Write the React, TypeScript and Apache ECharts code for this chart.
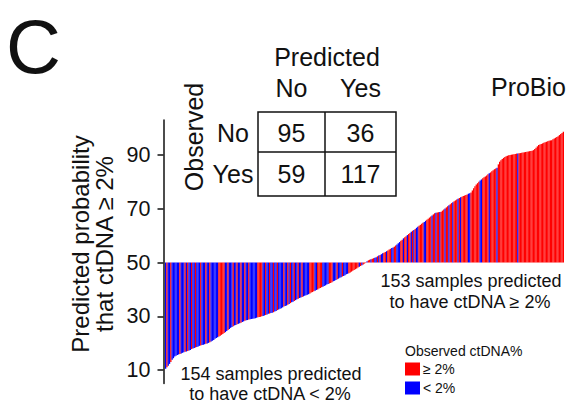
import React, { useEffect, useRef } from "react";
import * as echarts from "echarts";

// Predicted probability (%) that ctDNA >= 2%, sorted, samples predicted "No" (154)
const probPredNo: number[] = [
  10.5, 11.0, 11.6, 12.3, 13.0, 13.8, 14.4, 15.0, 15.3, 15.6,
  15.8, 16.0, 16.2, 16.4, 16.6, 16.8, 16.9, 17.1, 17.3, 17.5,
  17.8, 18.0, 18.2, 18.4, 18.6, 18.8, 19.0, 19.1, 19.3, 19.4,
  19.6, 19.8, 19.9, 20.1, 20.3, 20.6, 20.9, 21.2, 21.6, 21.9,
  22.2, 22.5, 22.8, 23.1, 23.4, 23.8, 24.1, 24.5, 24.9, 25.3,
  25.7, 26.0, 26.3, 26.6, 26.8, 27.0, 27.2, 27.4, 27.6, 27.9,
  28.1, 28.3, 28.5, 28.6, 28.8, 28.9, 29.0, 29.1, 29.2, 29.3,
  29.5, 29.6, 29.7, 29.8, 30.0, 30.1, 30.3, 30.5, 30.7, 30.9,
  31.0, 31.2, 31.3, 31.5, 31.8, 32.0, 32.3, 32.5, 32.8, 33.0,
  33.3, 33.6, 33.8, 34.0, 34.3, 34.6, 34.9, 35.2, 35.4, 35.7,
  36.0, 36.3, 36.5, 36.8, 37.0, 37.2, 37.4, 37.6, 37.8, 38.0,
  38.2, 38.5, 38.8, 39.0, 39.3, 39.5, 39.8, 40.0, 40.3, 40.5,
  40.8, 41.0, 41.3, 41.5, 41.8, 42.0, 42.2, 42.4, 42.7, 43.0,
  43.2, 43.5, 43.8, 44.0, 44.3, 44.5, 44.8, 45.0, 45.3, 45.6,
  45.8, 46.0, 46.3, 46.6, 46.9, 47.2, 47.5, 47.8, 48.1, 48.4,
  48.7, 49.0, 49.3, 49.6,
];

// Samples predicted "Yes" (153)
const probPredYes: number[] = [
  50.2, 50.5, 50.8, 51.0, 51.2, 51.4, 51.6, 51.8, 52.0, 52.3,
  52.6, 52.8, 53.1, 53.4, 53.6, 53.9, 54.2, 54.5, 54.8, 55.1,
  55.4, 55.6, 55.9, 56.3, 56.7, 57.2, 57.6, 58.1, 58.5, 59.0,
  59.4, 59.8, 60.2, 60.6, 61.0, 61.4, 61.8, 62.1, 62.5, 62.9,
  63.3, 63.7, 64.0, 64.4, 64.8, 65.1, 65.5, 65.9, 66.3, 66.7,
  67.1, 67.5, 67.9, 68.3, 68.5, 68.6, 68.7, 68.8, 68.9, 69.3,
  69.7, 70.1, 70.5, 70.9, 71.3, 71.7, 72.1, 72.4, 72.8, 73.1,
  73.4, 73.7, 74.0, 74.3, 74.5, 74.7, 74.9, 75.1, 75.3, 75.6,
  75.8, 76.0, 76.8, 77.6, 78.4, 79.0, 79.5, 80.0, 80.5, 80.9,
  81.3, 81.7, 82.0, 82.4, 82.8, 83.2, 83.5, 83.9, 84.3, 84.7,
  85.0, 85.2, 86.5, 87.5, 88.0, 88.5, 88.9, 89.2, 89.5, 89.7,
  89.9, 90.0, 90.1, 90.2, 90.3, 90.4, 90.5, 90.5, 90.6, 90.7,
  90.8, 90.9, 91.0, 91.1, 91.2, 91.3, 91.4, 91.5, 91.6, 91.8,
  92.2, 92.7, 93.2, 93.7, 93.9, 94.1, 94.3, 94.5, 94.7, 94.9,
  95.1, 95.3, 95.4, 95.5, 95.8, 96.1, 96.4, 96.7, 97.0, 97.4,
  97.8, 98.2, 98.6,
];

// Observed ctDNA class per sample: R = >= 2%, B = < 2%
const observedPredNo: string =
  "BRBBRBBBBB" + "BRBBBRBRBB" + "RBBRBBBRBB" + "BRBBRBBBBB" + "BRRRRRBBRB" +
  "BBRBBRBBRB" + "BRBBRBBBBB" + "BRRRRBBRBB" + "RBBRBBRBBB" + "BRBBRBRBBR" +
  "BBRBBRBBBB" + "BRRRRBBRRR" + "RBBBBBRRRB" + "BBRBBBRBBB" + "BRRRRRRRRB" +
  "RBRR";
const observedPredYes: string =
  "RBRRBRRBBR" + "BRBBRRBRRR" + "BBRRBBBRRB" + "RRBRRBRBRB" + "BRRRRBBRRR" +
  "RBRRBRRBRR" + "RBRRBRRBRR" + "RBRBRRRRRB" + "BRRRRRRRBB" + "RRRRRBRRRR" +
  "RBRRRRRRRR" + "RRRRRRRBRR" + "RRRRRRRRRR" + "RRRRRRRRRR" + "RRRRRRRRRR" +
  "RRR";

const yTicks: number[] = [10, 30, 50, 70, 90];
const threshold = 50;
const predictedLabels: string[] = ["No", "Yes"];
const observedLabels: string[] = ["No", "Yes"];
const countsObservedNo: number[] = [95, 36];
const countsObservedYes: number[] = [59, 117];
const legendLabels: string[] = ["≥ 2%", "< 2%"];

const RED = "#ff0000";
const BLUE = "#0000ff";
const FONT = "'Liberation Sans', Arial, Helvetica, sans-serif";
const INK = "#111111";

function buildOption() {
  const probs = [...probPredNo, ...probPredYes];
  const obs = (observedPredNo + observedPredYes).split("");
  const sampleIds = probs.map((_, i) => String(i + 1));
  const base = probs.map((v) => Math.min(v, threshold));
  const delta = probs.map((v, i) => ({
    value: Math.abs(v - threshold),
    itemStyle: { color: obs[i] === "R" ? RED : BLUE },
  }));

  const txt = (
    text: string,
    x: number,
    y: number,
    size: number,
    align: string = "center",
    rotation = 0
  ) => ({
    type: "text",
    x,
    y,
    rotation,
    silent: true,
    style: {
      text,
      fill: INK,
      fontSize: size,
      fontFamily: FONT,
      align,
      verticalAlign: "middle",
    },
  });

  const tL = 258, tR = 396, tT = 112, tB = 196, tVM = 325, tHM = 152;
  const colX = [(tL + tVM) / 2, (tR + tVM) / 2];
  const rowY = [(tT + tHM) / 2 + 1, (tHM + tB) / 2];

  return {
    animation: false,
    backgroundColor: "#ffffff",
    grid: { left: 165, right: 5, top: 120, bottom: 18.5, containLabel: false },
    xAxis: {
      type: "category",
      data: sampleIds,
      show: false,
      boundaryGap: true,
    },
    yAxis: {
      type: "value",
      min: 5,
      max: 103,
      offset: 1.5,
      axisLine: { show: true, lineStyle: { color: INK, width: 1.5 } },
      axisTick: {
        show: true,
        length: 6,
        customValues: yTicks,
        lineStyle: { color: INK, width: 1.5 },
      },
      axisLabel: {
        customValues: yTicks,
        fontSize: 21.5,
        color: INK,
        margin: 13,
        fontFamily: FONT,
      },
      splitLine: { show: false },
    },
    legend: {
      data: legendLabels,
      orient: "vertical",
      left: 405,
      top: 362,
      padding: 0,
      itemWidth: 15,
      itemHeight: 13,
      itemGap: 5,
      icon: "rect",
      textStyle: { fontSize: 14, color: INK, fontFamily: FONT, padding: [0, 0, 0, -2] },
      selectedMode: false,
    },
    series: [
      {
        type: "bar",
        name: "base",
        stack: "w",
        data: base,
        barCategoryGap: "0%",
        itemStyle: { color: "rgba(0,0,0,0)" },
        silent: true,
      },
      {
        type: "bar",
        name: "delta",
        stack: "w",
        data: delta,
        barCategoryGap: "0%",
        silent: true,
      },
      { type: "bar", name: legendLabels[0], stack: "w", data: [], itemStyle: { color: RED } },
      { type: "bar", name: legendLabels[1], stack: "w", data: [], itemStyle: { color: BLUE } },
    ],
    graphic: [
      txt("C", 6, 46, 76, "left"),
      txt("Predicted", (tL + tR) / 2, 57, 25),
      txt(predictedLabels[0], colX[0], 88, 25),
      txt(predictedLabels[1], colX[1], 88, 25),
      txt("ProBio", 566, 87, 25, "right"),
      txt("Observed", 194, 137, 25, "center", Math.PI / 2),
      txt(observedLabels[0], 233, rowY[0], 25),
      txt(observedLabels[1], 233, rowY[1], 25),
      txt(String(countsObservedNo[0]), colX[0], rowY[0], 25),
      txt(String(countsObservedNo[1]), colX[1], rowY[0], 25),
      txt(String(countsObservedYes[0]), colX[0], rowY[1], 25),
      txt(String(countsObservedYes[1]), colX[1], rowY[1], 25),
      {
        type: "rect",
        silent: true,
        shape: { x: tL, y: tT, width: tR - tL, height: tB - tT },
        style: { fill: "none", stroke: INK, lineWidth: 1.5 },
      },
      {
        type: "line",
        silent: true,
        shape: { x1: tVM, y1: tT, x2: tVM, y2: tB },
        style: { stroke: INK, lineWidth: 1.5 },
      },
      {
        type: "line",
        silent: true,
        shape: { x1: tL, y1: tHM, x2: tR, y2: tHM },
        style: { stroke: INK, lineWidth: 1.5 },
      },
      txt("Predicted probability", 80, 244, 24, "center", Math.PI / 2),
      txt("that ctDNA ≥ 2%", 104, 244, 24, "center", Math.PI / 2),
      txt("153 samples predicted", 471, 281, 18),
      txt("to have ctDNA ≥ 2%", 470, 302, 18),
      txt("154 samples predicted", 271, 374, 18),
      txt("to have ctDNA < 2%", 270, 394, 18),
      txt("Observed ctDNA%", 405, 351, 14, "left"),
    ],
  };
}

export default function App() {
  const ref = useRef<HTMLDivElement>(null);
  useEffect(() => {
    if (!ref.current) return;
    const chart = echarts.init(ref.current, null, { renderer: "svg" });
    chart.setOption(buildOption() as any);
    return () => chart.dispose();
  }, []);
  return (
    <div
      ref={ref}
      style={{ position: "absolute", left: 0, top: 0, width: 569, height: 402 }}
    />
  );
}
